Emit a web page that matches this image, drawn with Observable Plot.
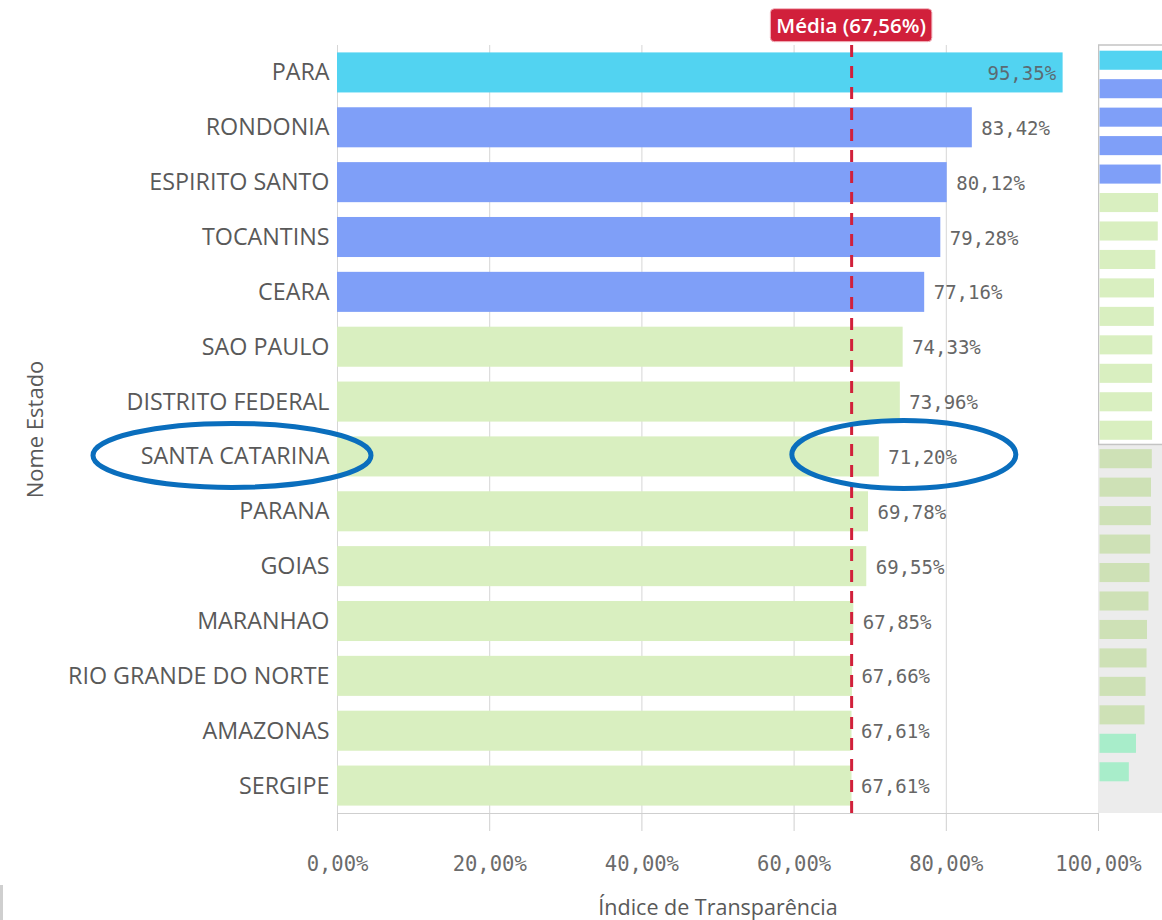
<!DOCTYPE html>
<html>
<head>
<meta charset="utf-8">
<script src="https://cdn.jsdelivr.net/npm/d3@7"></script>
<script src="https://cdn.jsdelivr.net/npm/@observablehq/plot@0.6"></script>
<style>
  body { margin: 0; background: #fff; }
  #wrap { position: relative; width: 1162px; height: 920px; overflow: hidden; background: #fff; }
  #main, #mini { position: absolute; top: 0; }
  #main { left: 0; }
  #mini { left: 1098px; }
  #edge { position: absolute; left: 0; top: 885px; width: 3px; height: 35px; background: #cfcfcf; }
</style>
</head>
<body>
<div id="wrap">
  <div id="main"></div>
  <div id="mini"></div>
  <div id="edge"></div>
</div>
<script>
// ---- Data ----
const estados = ["PARA", "RONDONIA", "ESPIRITO SANTO", "TOCANTINS", "CEARA", "SAO PAULO",
  "DISTRITO FEDERAL", "SANTA CATARINA", "PARANA", "GOIAS", "MARANHAO",
  "RIO GRANDE DO NORTE", "AMAZONAS", "SERGIPE"];
const valores = [95.35, 83.42, 80.12, 79.28, 77.16, 74.33, 73.96, 71.20, 69.78, 69.55, 67.85, 67.66, 67.61, 67.61];
const media = 67.56;
const destaque = "SANTA CATARINA";
// values of the states below the visible window (read from the scroll overview)
const valoresOcultos = [67.3, 66.4, 66.2, 65.5, 64.7, 63.6, 61.9, 61.4, 60.3, 59.2, 49.6, 41.6];
const xTicks = [0, 20, 40, 60, 80, 100];
const tituloX = "Índice de Transparência";
const tituloY = "Nome Estado";
const rotuloMedia = "Média (67,56%)";

// ---- Styling ----
const faixa = v => v >= 90 ? "alto" : v >= 75 ? "medio" : v >= 55 ? "regular" : "baixo";
const faixas = ["alto", "medio", "regular", "baixo", "regular-oculto"];
const cores = ["#52d3f1", "#7f9ff8", "#d9efc0", "#a8edca", "#cee1b6"];
const fmt = v => v.toFixed(2).replace(".", ",") + "%";
const mono = "DejaVu Sans Mono, monospace";
const sans = "Open Sans, Roboto, sans-serif";

const dados = estados.map((e, i) => ({estado: e, valor: valores[i], grupo: faixa(valores[i])}));

// annotations (ellipses + mean label) drawn via the plot's scales
function anotacoes(index, scales, values, dim) {
  const x = scales.x, y = scales.y;
  const i = estados.indexOf(destaque);
  const step = y(estados[i + 1]) - y(estados[i]);
  const cy = y(destaque) + step * 0.365 - 1;
  const g = d3.create("svg:g");
  g.append("ellipse")
    .attr("cx", dim.marginLeft - 105).attr("cy", cy)
    .attr("rx", 139).attr("ry", 32)
    .attr("fill", "none").attr("stroke", "#0a6ebd").attr("stroke-width", 5);
  g.append("ellipse")
    .attr("cx", x(valores[i]) + 25).attr("cy", cy - 1)
    .attr("rx", 112).attr("ry", 34)
    .attr("fill", "none").attr("stroke", "#0a6ebd").attr("stroke-width", 5);
  const lab = g.append("g").attr("id", "media-label");
  lab.append("rect").attr("rx", 4).attr("ry", 4)
    .attr("fill", "#d1203b").attr("stroke", "#f3b7c0").attr("stroke-width", 1);
  lab.append("text").attr("x", x(media)).attr("y", 26).attr("dy", "0.35em")
    .attr("text-anchor", "middle").attr("fill", "#fff")
    .attr("font-family", sans).attr("font-size", 20.5).attr("font-weight", 600)
    .text(rotuloMedia);
  return g.node();
}

const main = Plot.plot({
  width: 1162,
  height: 920,
  marginLeft: 337,
  marginRight: 64,
  marginTop: 45,
  marginBottom: 107,
  style: {background: "transparent", fontFamily: sans, fontSize: "23px", color: "#595959", overflow: "visible"},
  x: {domain: [0, 100], axis: null},
  y: {domain: estados, type: "band", paddingInner: 0.27, paddingOuter: 0.135, round: false, axis: null},
  color: {domain: faixas, range: cores},
  marks: [
    Plot.gridX(xTicks, {stroke: "#d6d6d6", strokeOpacity: 1}),
    Plot.barX(dados, {y: "estado", x: "valor", fill: "grupo"}),
    Plot.frame({anchor: "bottom", stroke: "#cfcfcf"}),
    Plot.axisY({tickSize: 0, tickPadding: 8, label: null, fill: "#595959", fontSize: 23.3, fontFamily: sans}),
    Plot.axisX({ticks: xTicks, tickFormat: fmt, tickSize: 18, tickPadding: 25, label: null,
      stroke: "#cfcfcf", fill: "#6b6b6b", fontFamily: mono, fontSize: 20.5}),
    Plot.ruleX([media], {stroke: "#d1203b", strokeWidth: 3, strokeDasharray: "12,9"}),
    Plot.text(dados.filter(d => d.valor < 90), {x: "valor", y: "estado", text: d => fmt(d.valor),
      textAnchor: "start", dx: 9, dy: 1, fill: "#666", fontFamily: mono, fontSize: 19}),
    Plot.text(dados.filter(d => d.valor >= 90), {x: "valor", y: "estado", text: d => fmt(d.valor),
      textAnchor: "end", dx: -7, dy: 1, fill: "#5b6b73", fontFamily: mono, fontSize: 19}),
    Plot.text([tituloX], {frameAnchor: "bottom", lineAnchor: "middle", dy: 95,
      fill: "#595959", fontFamily: sans, fontSize: 21.5}),
    Plot.text([tituloY], {frameAnchor: "left", textAnchor: "middle", lineAnchor: "middle", rotate: -90, dx: -302,
      fill: "#595959", fontFamily: sans, fontSize: 22}),
    anotacoes
  ]
});
document.getElementById("main").append(main);

// size the mean label box to its text
{
  const lab = main.querySelector("#media-label");
  const t = lab.querySelector("text");
  const b = t.getBBox();
  const r = lab.querySelector("rect");
  r.setAttribute("x", b.x - 6);
  r.setAttribute("width", b.width + 12);
  r.setAttribute("y", b.y + b.height / 2 - 16.5);
  r.setAttribute("height", 33);
}

// ---- Scroll overview (mini chart) ----
const miniDados = [
  ...valores.map((v, i) => ({i, valor: v, grupo: faixa(v)})),
  ...valoresOcultos.map((v, j) => ({i: valores.length + j, valor: v,
    grupo: faixa(v) === "regular" ? "regular-oculto" : faixa(v)}))
];
function miniFundo(index, scales, values, dim) {
  const y = scales.y;
  const n = valores.length;
  const corte = (y(n - 1) + y(n)) / 2 + (y(n) - y(n - 1)) * 0.335;
  const g = d3.create("svg:g");
  g.append("rect").attr("x", 0).attr("width", dim.width)
    .attr("y", corte).attr("height", dim.height - 107 - corte).attr("fill", "#ececec");
  g.append("rect").attr("x", 0.5).attr("width", dim.width + 5)
    .attr("y", dim.marginTop - 1).attr("height", corte - dim.marginTop + 1)
    .attr("fill", "none").attr("stroke", "#c4c4c4").attr("stroke-width", 1.5);
  return g.node();
}
const mini = Plot.plot({
  width: 64,
  height: 920,
  marginLeft: 1.5,
  marginRight: 0,
  marginTop: 46,
  marginBottom: 134,
  style: {background: "transparent"},
  x: {domain: [8.8, 78.7], axis: null},
  y: {domain: d3.range(miniDados.length), type: "band", paddingInner: 0.33, paddingOuter: 0.165, round: false, axis: null},
  color: {domain: faixas, range: cores},
  marks: [
    miniFundo,
    Plot.barX(miniDados, {x: "valor", y: "i", fill: "grupo", clip: true})
  ]
});
document.getElementById("mini").append(mini);
</script>
</body>
</html>
